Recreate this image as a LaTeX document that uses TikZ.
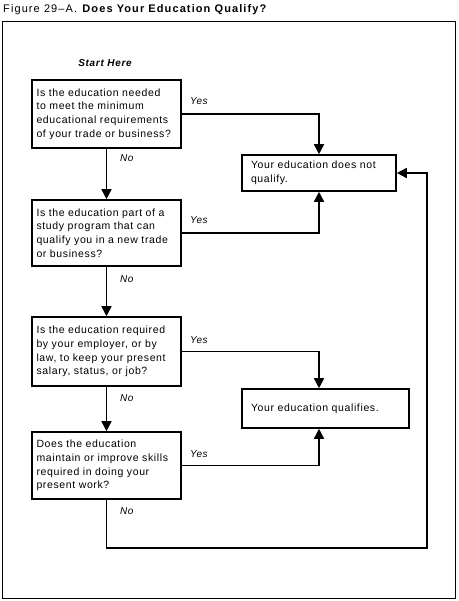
\documentclass[tikz,border=0pt]{standalone}
\usepackage{fontspec}
\setmainfont{Liberation Sans}
\usetikzlibrary{arrows.meta}
\begin{document}
\begin{tikzpicture}[x=1pt,y=-1pt,
  boxfont/.style={font=\fontsize{10.5}{13.8}\selectfont\addfontfeature{LetterSpace=6}},
  qbox/.style={draw,line width=1.6pt,minimum width=149pt,minimum height=68pt,text width=140pt,align=left,inner xsep=4.5pt,boxfont},
  rbox/.style={draw,line width=1.6pt,align=left,boxfont},
  conn/.style={line width=1.6pt},
  arr/.style={conn,-{Triangle[width=10pt,length=10pt]}},
  lbl/.style={font=\fontsize{10}{11}\selectfont\itshape\addfontfeature{LetterSpace=4},inner sep=0pt}]
\useasboundingbox (0,0) rectangle (458,601);
\node[anchor=west,inner sep=0pt,font=\fontsize{11}{13}\selectfont\addfontfeature{LetterSpace=10}] (title) at (3,10) {Figure 29--A. \textbf{Does Your Education Qualify?}};
\draw[line width=1.6pt] (2.5,21.5) rectangle (455.5,598.5);
\node[font=\fontsize{10}{11}\selectfont\bfseries\itshape\addfontfeature{LetterSpace=7},inner sep=0pt] (start) at (105,63) {Start Here};
\node[qbox] (q1) at (106.5,114) {Is the education needed\\to meet the minimum\\educational requirements\\of your trade or business?};
\node[qbox,minimum height=66pt] (q2) at (106.5,233) {Is the education part of a\\study program that can\\qualify you in a new trade\\or business?};
\node[qbox,minimum height=69pt] (q3) at (106.5,351.5) {Is the education required\\by your employer, or by\\law, to keep your present\\salary, status, or job?};
\node[qbox,minimum height=67pt] (q4) at (106.5,465.5) {Does the education\\maintain or improve skills\\required in doing your\\present work?};
\node[rbox,minimum width=154pt,minimum height=36pt,text width=136pt,inner xsep=9pt] (nq) at (319,173) {Your education does not\\qualify.};
\node[rbox,minimum width=167pt,minimum height=39pt,text width=149pt,inner xsep=9pt] (ql) at (325.5,408.5) {Your education qualifies.};
\coordinate (cr) at (427,548);
\draw[arr] (q1.south) -- (q2.north);
\draw[arr] (q2.south) -- (q3.north);
\draw[arr] (q3.south) -- (q4.north);
\draw[arr] (q1.east) -| (nq.north);
\draw[arr] (q2.east) -| (nq.south);
\draw[arr] (q3.east) -| (nq.south |- ql.north);
\draw[arr] (q4.east) -| (nq.south |- ql.south);
\draw[arr] (q4.south) |- (cr) |- (nq.east);
\node[lbl,anchor=west] (y1) at (190,101) {Yes};
\node[lbl,anchor=west] (y2) at (190,220) {Yes};
\node[lbl,anchor=west] (y3) at (190,340) {Yes};
\node[lbl,anchor=west] (y4) at (190,454) {Yes};
\node[lbl,anchor=west] (n1) at (120,158) {No};
\node[lbl,anchor=west] (n2) at (120,279) {No};
\node[lbl,anchor=west] (n3) at (120,398) {No};
\node[lbl,anchor=west] (n4) at (120,511) {No};
\end{tikzpicture}
\end{document}
